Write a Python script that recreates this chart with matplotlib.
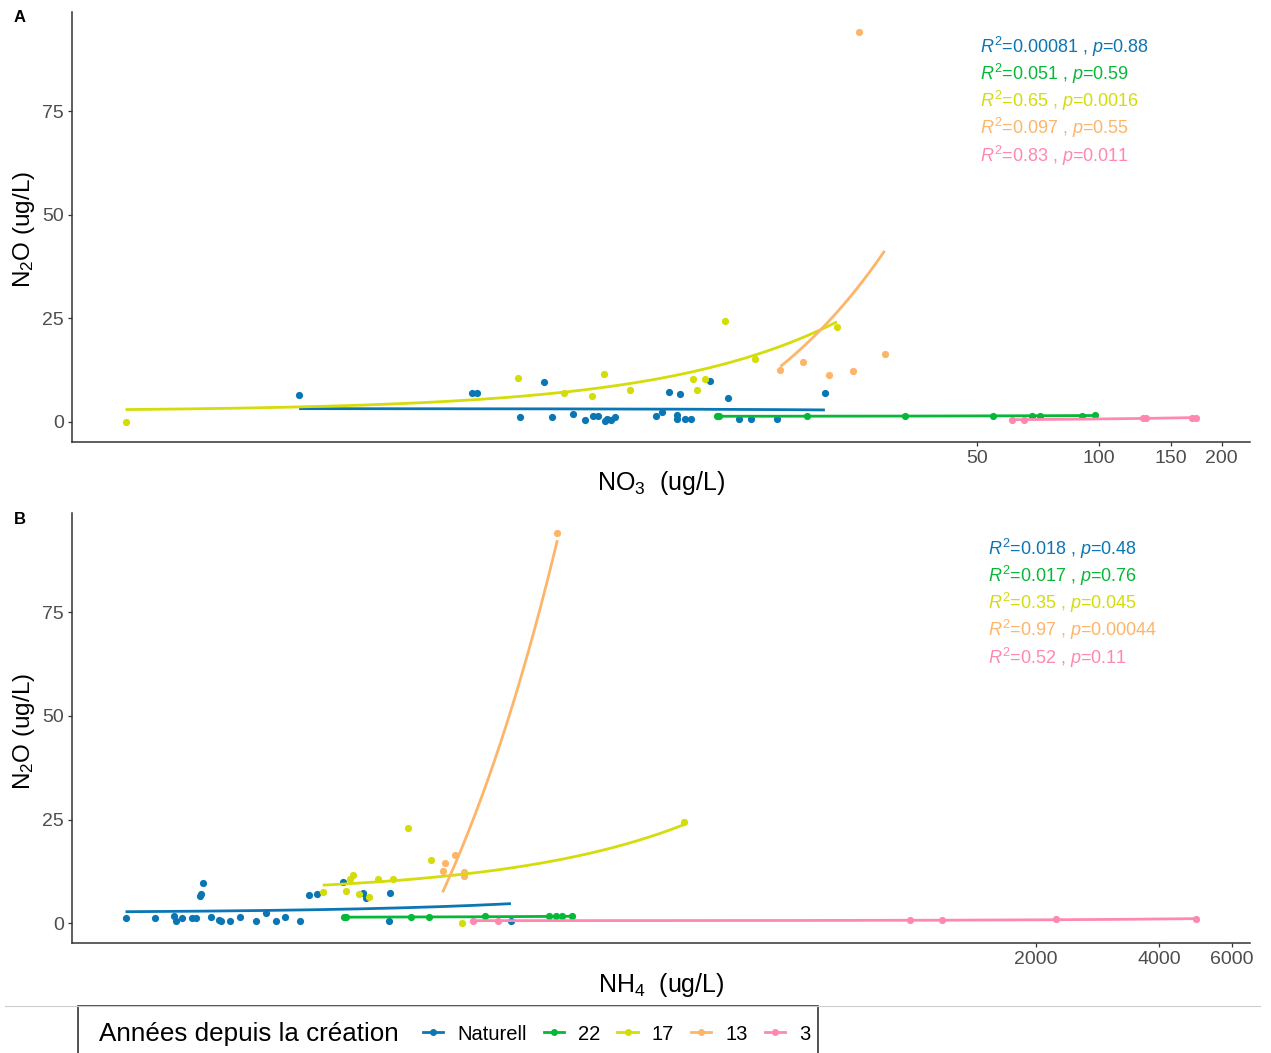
import matplotlib
matplotlib.use('Agg')
import matplotlib.pyplot as plt
import numpy as np
from matplotlib.lines import Line2D
from matplotlib.patches import Rectangle
from matplotlib.ticker import FixedLocator, NullLocator, FixedFormatter

plt.rcParams['font.family'] = ['Liberation Sans', 'DejaVu Sans']
plt.rcParams['mathtext.fontset'] = 'custom'
plt.rcParams['mathtext.rm'] = 'Liberation Sans'
plt.rcParams['mathtext.it'] = 'Liberation Sans:italic'
plt.rcParams['mathtext.bf'] = 'Liberation Sans:bold'

groups = ['Naturell', '22', '17', '13', '3']
colors = ['#0A76B4', '#05B838', '#D4DC0A', '#FDB56A', '#FF88B2']

# --- panel A : NO3 vs N2O
no3_nat = [1.07, 2.85, 2.93, 4.29, 3.75, 4.49, 5.07, 5.42, 5.67, 5.84, 6.06, 6.15, 6.26, 6.41,
           8.09, 8.36, 8.74, 9.12, 9.12, 9.27, 9.55, 9.90, 11.0, 12.2, 13.0, 13.9, 16.1, 21.1]
n2o_nat_a = [6.5, 7.05, 7.05, 9.6, 1.3, 1.3, 1.85, 0.5, 1.4, 1.4, 0.3, 0.7, 0.5, 1.3,
             1.45, 2.5, 7.3, 1.7, 0.65, 6.7, 0.65, 0.65, 9.8, 5.9, 0.65, 0.65, 0.65, 7.0]
no3_22 = [11.47, 11.6, 19.1, 33.3, 54.7, 68.3, 71.6, 90.5, 97.7]
n2o_22_a = [1.4, 1.4, 1.4, 1.45, 1.4, 1.45, 1.45, 1.5, 1.7]
no3_17 = [0.40, 3.70, 4.80, 5.64, 6.03, 6.98, 10.0, 10.2, 10.7, 12.0, 14.2, 22.6]
n2o_17_a = [0.0, 10.6, 6.9, 6.25, 11.5, 7.7, 10.3, 7.6, 10.3, 24.4, 15.2, 22.9]
no3_13 = [16.4, 18.6, 21.6, 24.8, 25.6, 29.6]
n2o_13_a = [12.6, 14.4, 11.3, 12.2, 94.2, 16.3]
no3_3 = [61.0, 65.2, 127.8, 130.2, 169.3, 173.5]
n2o_3_a = [0.55, 0.5, 1.0, 0.9, 1.0, 1.0]

# --- panel B : NH4 vs N2O
nh4_nat = [11.94, 14.08, 15.72, 15.90, 16.42, 17.31, 17.74, 18.12, 18.29, 18.41, 19.32, 20.18,
           20.45, 21.51, 22.78, 24.92, 26.33, 27.87, 29.31, 31.90, 33.57, 35.14, 40.58, 45.30,
           46.06, 52.47, 52.84, 104.3]
n2o_nat_b = [1.3, 1.4, 1.9, 0.55, 1.4, 1.4, 1.4, 6.6, 7.0, 9.7, 1.6, 0.8,
             0.55, 0.5, 1.5, 0.65, 2.5, 0.65, 1.45, 0.7, 6.8, 7.1, 10.0, 7.4,
             6.2, 0.55, 7.3, 0.55]
nh4_22 = [40.7, 41.3, 59.4, 65.8, 90.1, 129.4, 134.0, 139.2, 146.8]
n2o_22_b = [1.5, 1.5, 1.5, 1.6, 1.7, 1.7, 1.7, 1.7, 1.7]
nh4_17 = [36.2, 41.3, 42.1, 42.9, 44.3, 46.9, 49.3, 53.8, 58.3, 66.4, 79.1, 276.2]
n2o_17_b = [7.7, 7.9, 10.6, 11.6, 7.0, 6.3, 10.7, 10.6, 23.0, 15.4, 0.0, 24.4]
nh4_13 = [71.0, 72.1, 76.0, 80.0, 80.1, 135.4]
n2o_13_b = [12.7, 14.6, 16.4, 12.4, 11.4, 94.2]
nh4_3 = [84.1, 96.9, 986, 1181, 2234, 4926]
n2o_3_b = [0.55, 0.55, 0.8, 0.95, 1.05, 1.05]

r2_a = ['0.00081', '0.051', '0.65', '0.097', '0.83']
p_a = ['0.88', '0.59', '0.0016', '0.55', '0.011']
r2_b = ['0.018', '0.017', '0.35', '0.97', '0.52']
p_b = ['0.48', '0.76', '0.045', '0.00044', '0.11']

xticks_a = [50, 100, 150, 200]
xticks_b = [2000, 4000, 6000]

W, H = 1271, 1053
fig = plt.figure(figsize=(W / 100, H / 100), dpi=100)


def draw_panel(ax, xs, ys, xticks, r2, pv, tx, ty):
    for x, y, c in zip(xs, ys, colors):
        x = np.array(x, float)
        y = np.array(y, float)
        ax.scatter(x, y, s=27, color=c, zorder=3, linewidths=0)
        b, a = np.polyfit(x, y, 1)
        xx = np.geomspace(x.min(), x.max(), 300)
        ax.plot(xx, a + b * xx, color=c, lw=2.0, zorder=4, solid_capstyle='butt')
    ax.set_xscale('log')
    allx = np.concatenate([np.array(x, float) for x in xs])
    lo, hi = np.log10(allx.min()), np.log10(allx.max())
    pad = 0.05 * (hi - lo)
    ax.set_xlim(10 ** (lo - pad), 10 ** (hi + pad))
    ally = np.concatenate([np.array(y, float) for y in ys])
    ypad = 0.05 * (ally.max() - ally.min())
    ax.set_ylim(ally.min() - ypad, ally.max() + ypad)
    ax.xaxis.set_major_locator(FixedLocator(xticks))
    ax.xaxis.set_major_formatter(FixedFormatter([str(t) for t in xticks]))
    ax.xaxis.set_minor_locator(NullLocator())
    ax.set_yticks([0, 25, 50, 75])
    for s in ['top', 'right']:
        ax.spines[s].set_visible(False)
    for s in ['left', 'bottom']:
        ax.spines[s].set_color('#333333')
        ax.spines[s].set_linewidth(1.1)
    ax.tick_params(axis='both', labelsize=14, labelcolor='#4D4D4D', color='#333333',
                   length=3, width=0.9, pad=3)
    for i, c in enumerate(colors):
        ax.text(tx, ty - i * 0.063, f'$R^2$=' + r2[i] + ' , $p$=' + pv[i],
                transform=ax.transAxes, color=c, fontsize=13, ha='left', va='center')


ax_a = fig.add_axes([72 / W, 1 - 441.5 / H, 1178 / W, 429.5 / H])
draw_panel(ax_a,
           [no3_nat, no3_22, no3_17, no3_13, no3_3],
           [n2o_nat_a, n2o_22_a, n2o_17_a, n2o_13_a, n2o_3_a],
           xticks_a, r2_a, p_a, 0.771, 0.918)

ax_b = fig.add_axes([72 / W, 1 - 943 / H, 1178 / W, 430 / H])
draw_panel(ax_b,
           [nh4_nat, nh4_22, nh4_17, nh4_13, nh4_3],
           [n2o_nat_b, n2o_22_b, n2o_17_b, n2o_13_b, n2o_3_b],
           xticks_b, r2_b, p_b, 0.778, 0.916)

# axis titles and panel tags
fig.text(661 / W, 1 - 483 / H, r'NO$_3$  (ug/L)', fontsize=18, ha='center', va='center')
fig.text(661 / W, 1 - 985 / H, r'NH$_4$  (ug/L)', fontsize=18, ha='center', va='center')
fig.text(24 / W, 1 - 229 / H, r'N$_2$O (ug/L)', fontsize=17.5, ha='center', va='center', rotation=90)
fig.text(24 / W, 1 - 731 / H, r'N$_2$O (ug/L)', fontsize=17.5, ha='center', va='center', rotation=90)
fig.text(14 / W, 1 - 17 / H, 'A', fontsize=12, fontweight='bold', ha='left', va='center')
fig.text(14 / W, 1 - 520 / H, 'B', fontsize=12, fontweight='bold', ha='left', va='center')

# legend at the bottom
fig.add_artist(Line2D([5 / W, 1260 / W], [1 - 1006 / H, 1 - 1006 / H], color='#CCCCCC', lw=0.8))
fig.add_artist(Rectangle((78 / W, -0.02), 740 / W, 0.02 + (1053 - 1006) / H,
                         transform=fig.transFigure, fill=False, edgecolor='#333333', lw=1.2))
fig.text(99 / W, 1 - 1034 / H, 'Années depuis la création', fontsize=18.7, ha='left', va='center')
handles = [Line2D([0], [0], color=c, lw=2.0, marker='o', markersize=4) for c in colors]
fig.legend(handles, groups, ncol=5, loc='center left', bbox_to_anchor=(423 / W, 1 - 1034 / H),
           frameon=False, fontsize=14.5, handlelength=1.0, handletextpad=0.7,
           columnspacing=0.85, borderpad=0, borderaxespad=0)

fig.savefig('out.png', dpi=100)
